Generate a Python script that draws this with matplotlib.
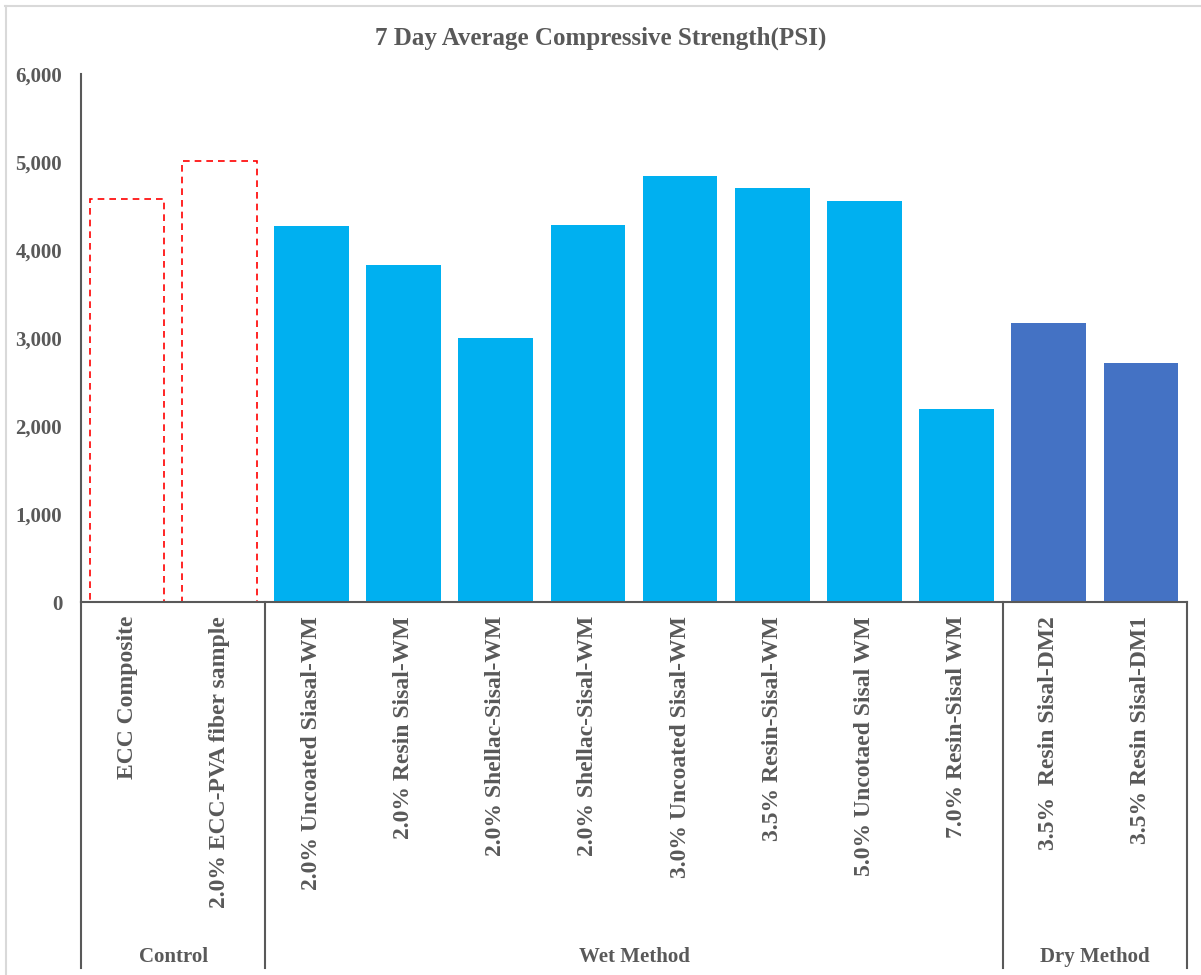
import matplotlib.pyplot as plt
from matplotlib.lines import Line2D
from matplotlib.ticker import FuncFormatter
from matplotlib.transforms import blended_transform_factory

labels = ["ECC Composite", "2.0% ECC-PVA fiber sample",
          "2.0% Uncoated Siasal-WM", "2.0% Resin Sisal-WM",
          "2.0% Shellac-Sisal-WM", "2.0% Shellac-Sisal-WM",
          "3.0% Uncoated Sisal-WM", "3.5% Resin-Sisal-WM",
          "5.0% Uncotaed Sisal WM", "7.0% Resin-Sisal WM",
          "3.5%  Resin Sisal-DM2", "3.5% Resin Sisal-DM1"]
strength = [4580, 5010, 4275, 3830, 3000, 4285, 4840, 4705, 4555, 2195, 3170, 2715]
method = ["control"] * 2 + ["wet"] * 8 + ["dry"] * 2
groups = ["Control", "Wet Method", "Dry Method"]

gray = "#595959"
font = "Liberation Serif"
plt.rcParams["font.family"] = font

fig = plt.figure(figsize=(12.01, 9.75), dpi=100)
ax = fig.add_axes([81 / 1201, 1 - 602 / 975, (1187 - 81) / 1201, (602 - 74) / 975])

# chart-area border (top and left edges)
fig.add_artist(Line2D([5 / 1201, 1], [1 - 6 / 975, 1 - 6 / 975],
                      transform=fig.transFigure, color="#D9D9D9", linewidth=1.5))
fig.add_artist(Line2D([6 / 1201, 6 / 1201], [0, 1 - 6 / 975],
                      transform=fig.transFigure, color="#D9D9D9", linewidth=1.5))

x = list(range(len(strength)))
for i, (v, m) in enumerate(zip(strength, method)):
    if m == "control":
        ax.bar(i, v, width=0.81, facecolor="none", edgecolor="#FF0000",
               linestyle=(0, (4, 3)), linewidth=1.2)
    elif m == "wet":
        ax.bar(i, v, width=0.81, color="#00B0F0")
    else:
        ax.bar(i, v, width=0.81, color="#4472C4")

ax.set_xlim(-0.5, len(strength) - 0.5)
ax.set_ylim(0, 6000)
ax.set_yticks(range(0, 6001, 1000))
ax.yaxis.set_major_formatter(FuncFormatter(lambda v, p: f"{int(v):,}"))
ax.tick_params(axis="y", length=0, pad=13.5, labelsize=15, labelcolor=gray)
for t in ax.get_yticklabels():
    t.set_fontweight("bold")

ax.set_xticks(x)
ax.set_xticklabels(labels, rotation=90, fontsize=17, fontweight="bold",
                   color=gray, va="top")
ax.tick_params(axis="x", length=0, pad=10)

for s in ["top", "right"]:
    ax.spines[s].set_visible(False)
for s in ["left", "bottom"]:
    ax.spines[s].set_color(gray)
    ax.spines[s].set_linewidth(1.5)

# group separators below the axis
trans = blended_transform_factory(ax.transData, ax.transAxes)
bottom = -(968 - 602) / (602 - 74)
for xb in [-0.5, 1.5, 9.5, len(strength) - 0.5]:
    ax.plot([xb, xb], [0, bottom], transform=trans, color=gray,
            linewidth=1.5, clip_on=False)

starts = [0, 2, 10]
ends = [1, 9, 11]
for g, a, b in zip(groups, starts, ends):
    ax.text((a + b) / 2, -(957 - 602) / (602 - 74), g, transform=trans,
            ha="center", va="center", fontsize=15, fontweight="bold", color=gray)

fig.text(0.5, 1 - 38 / 975, "7 Day Average Compressive Strength(PSI)",
         ha="center", va="center", fontsize=18, fontweight="bold", color=gray)

fig.savefig("out.png", dpi=100)
